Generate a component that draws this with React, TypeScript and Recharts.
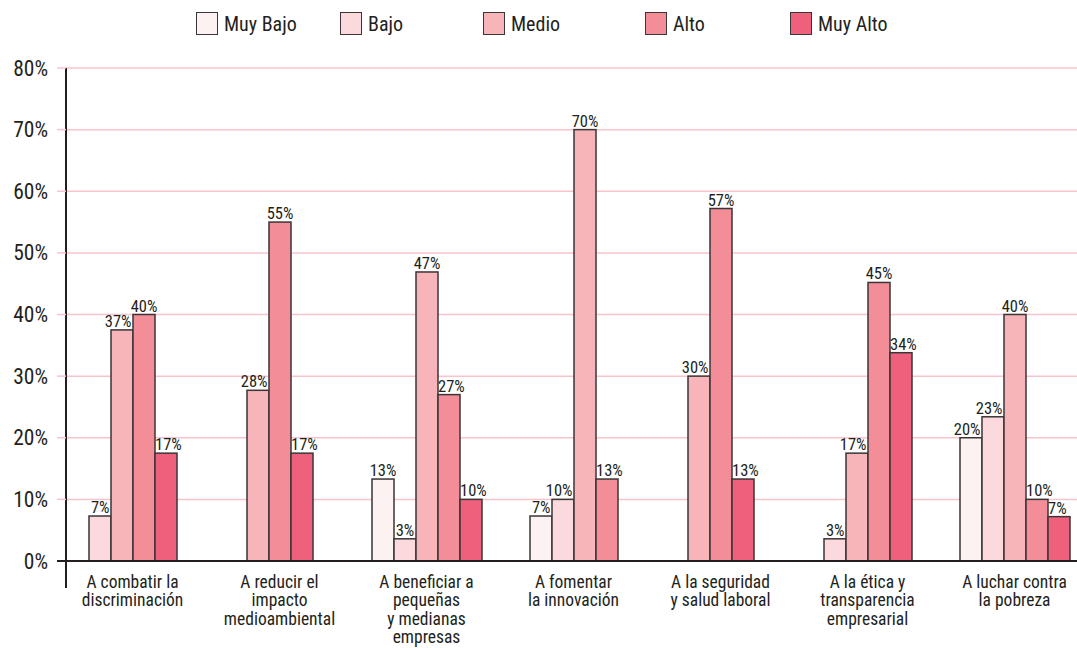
import React from 'react';
import { BarChart, Bar, XAxis, YAxis, CartesianGrid, Legend } from 'recharts';

const FONT = "'Roboto Condensed', 'Liberation Sans Narrow', 'DejaVu Sans Condensed', 'Open Sans', sans-serif";
const INK = '#231f20';
const GRID = '#f8c3ca';

const categories = [
  'A combatir la\ndiscriminación',
  'A reducir el\nimpacto\nmedioambiental',
  'A beneficiar a\npequeñas\ny medianas\nempresas',
  'A fomentar\nla innovación',
  'A la seguridad\ny salud laboral',
  'A la ética y\ntransparencia\nempresarial',
  'A luchar contra\nla pobreza',
];

const muyBajo = [0, 0, 13.3, 7.3, 0, 0, 20];
const bajo = [7.3, 0, 3.6, 10, 0, 3.6, 23.4];
const medio = [37.5, 27.7, 46.9, 70, 30, 17.5, 40];
const alto = [40, 55, 27, 13.3, 57.2, 45.2, 10];
const muyAlto = [17.5, 17.5, 10, 0, 13.3, 33.8, 7.2];

const muyBajoLabels = ['', '', '13%', '7%', '', '', '20%'];
const bajoLabels = ['7%', '', '3%', '10%', '', '3%', '23%'];
const medioLabels = ['37%', '28%', '47%', '70%', '30%', '17%', '40%'];
const altoLabels = ['40%', '55%', '27%', '13%', '57%', '45%', '10%'];
const muyAltoLabels = ['17%', '17%', '10%', '', '13%', '34%', '7%'];

const yTicks = [0, 10, 20, 30, 40, 50, 60, 70, 80];

const series = [
  { key: 'mb', name: 'Muy Bajo', color: '#fdf2f2', values: muyBajo, labels: muyBajoLabels },
  { key: 'b', name: 'Bajo', color: '#fbd9dc', values: bajo, labels: bajoLabels },
  { key: 'm', name: 'Medio', color: '#f7b5ba', values: medio, labels: medioLabels },
  { key: 'a', name: 'Alto', color: '#f38e99', values: alto, labels: altoLabels },
  { key: 'ma', name: 'Muy Alto', color: '#ef607c', values: muyAlto, labels: muyAltoLabels },
];

const legendWidths = [144, 143, 162, 145, 120];

const data = categories.map((name, i) => {
  const row: any = { name };
  series.forEach((s) => {
    row[s.key] = s.values[i];
    row[s.key + 'Label'] = s.labels[i];
  });
  return row;
});

// bars with a zero value are left out and the rest are centred in the group
const makeShape = (si: number) => (props: any) => {
  const { x, y, width, height, payload } = props;
  const s = series[si];
  if (!payload || !(payload[s.key] > 0)) return <g />;
  const active = series.filter((o) => payload[o.key] > 0);
  const rank = active.findIndex((o) => o.key === s.key);
  const center = x - si * width + (series.length * width) / 2;
  const nx = center - (active.length * width) / 2 + rank * width;
  const prev = rank > 0 ? payload[active[rank - 1].key] : -1;
  const next = rank < active.length - 1 ? payload[active[rank + 1].key] : -1;
  const v = payload[s.key];
  let anchor = 'middle';
  let tx = nx + width / 2;
  if (next > v && !(prev > v)) {
    anchor = 'end';
    tx = nx + width - 1.5;
  } else if (prev > v && !(next > v)) {
    anchor = 'start';
    tx = nx;
  }
  return (
    <g>
      <rect x={nx} y={y} width={width} height={height} fill={s.color} stroke="#3a3536" strokeWidth={1.5} />
      <text x={tx} y={y - 3} textAnchor={anchor} fontSize={16.5} fill={INK} fontFamily={FONT}>
        {payload[s.key + 'Label']}
      </text>
    </g>
  );
};

const YTick = (props: any) => {
  const { x, y, payload } = props;
  const axisX = x + 18;
  const zero = payload.value === 0;
  return (
    <g>
      <line x1={x + 9} x2={axisX} y1={y} y2={y} stroke={zero ? INK : GRID} strokeWidth={zero ? 2 : 1.5} />
      {zero && <line x1={axisX} x2={axisX} y1={y} y2={y + 27} stroke={INK} strokeWidth={2} />}
      <text x={x} y={y + 7.5} textAnchor="end" fontSize={21.5} fill={INK} fontFamily={FONT}>
        {payload.value}%
      </text>
    </g>
  );
};

const XTick = (props: any) => {
  const { x, y, payload } = props;
  const lines = String(payload.value).split('\n');
  return (
    <text x={x} y={y + 26.5} textAnchor="middle" fontSize={17.5} fill={INK} fontFamily={FONT}>
      {lines.map((l, i) => (
        <tspan key={i} x={x} dy={i === 0 ? 0 : 18.6}>
          {l}
        </tspan>
      ))}
    </text>
  );
};

const renderLegend = () => (
  <div style={{ display: 'flex', alignItems: 'center', height: 47, paddingLeft: 196, fontFamily: FONT }}>
    {series.map((s, i) => (
      <div key={s.key} style={{ width: legendWidths[i], display: 'flex', alignItems: 'center' }}>
        <span
          style={{
            display: 'inline-block',
            boxSizing: 'border-box',
            width: 22,
            height: 23,
            background: s.color,
            border: '1.5px solid #3a3536',
          }}
        />
        <span style={{ marginLeft: 6, fontSize: 20, color: INK }}>{s.name}</span>
      </div>
    ))}
  </div>
);

export default function App() {
  return (
    <div style={{ width: 1077, height: 648, overflow: 'hidden', fontFamily: FONT }}>
      <style>{'body{margin:0}'}</style>
      <BarChart
        width={1077}
        height={648}
        data={data}
        margin={{ top: 21, right: 0, bottom: 7, left: 0 }}
        barGap={0}
        barSize={22}
      >
        <Legend verticalAlign="top" align="center" content={renderLegend} wrapperStyle={{ top: 0, left: 0, width: 1077 }} />
        <CartesianGrid vertical={false} stroke={GRID} strokeWidth={1.5} />
        <XAxis
          dataKey="name"
          interval={0}
          height={80}
          tickSize={0}
          tickMargin={0}
          tickLine={false}
          padding={{ left: -7, right: -11 }}
          axisLine={{ stroke: INK, strokeWidth: 2 }}
          tick={<XTick />}
        />
        <YAxis
          domain={[0, 80]}
          ticks={yTicks}
          width={66}
          tickSize={9}
          tickMargin={9}
          tickLine={false}
          axisLine={{ stroke: INK, strokeWidth: 2 }}
          tick={<YTick />}
        />
        {series.map((s, i) => (
          <Bar key={s.key} dataKey={s.key} name={s.name} fill={s.color} isAnimationActive={false} shape={makeShape(i)} />
        ))}
      </BarChart>
    </div>
  );
}
